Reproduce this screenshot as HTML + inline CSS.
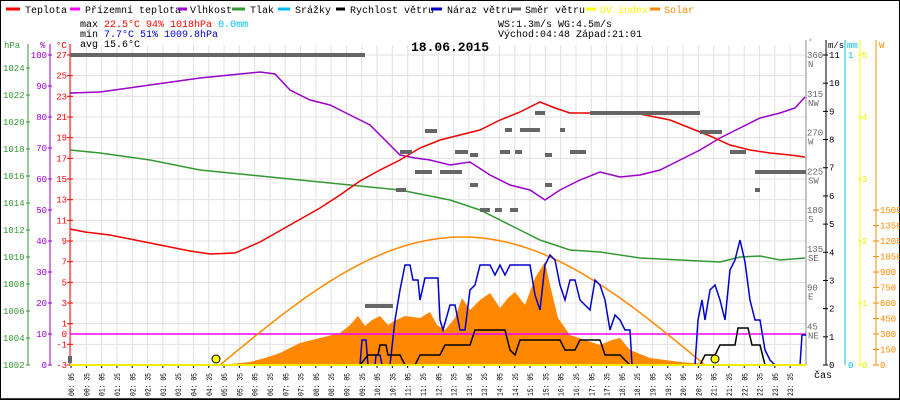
<!DOCTYPE html><html><head><meta charset="utf-8"><style>body{margin:0;background:#fff}svg{display:block;font-family:"Liberation Mono","DejaVu Sans Mono",monospace}</style></head><body>
<svg id="s" width="900" height="400" xmlns="http://www.w3.org/2000/svg">
<rect x="0.5" y="0.5" width="899" height="399" fill="#fff" stroke="#000"/>
<g id="grid" stroke="#e4e0e0" stroke-width="1"></g>
<g font-size="10">
<line x1="6" y1="9" x2="20" y2="9" stroke="#f00" stroke-width="3"/><text x="25" y="13">Teplota</text>
<line x1="70" y1="9" x2="80" y2="9" stroke="#f0f" stroke-width="3"/><text x="85" y="13">Přízemní teplota</text>
<line x1="178" y1="9" x2="187" y2="9" stroke="#90c" stroke-width="3"/><text x="190" y="13">Vlhkost</text>
<line x1="232" y1="9" x2="245" y2="9" stroke="#393" stroke-width="3"/><text x="250" y="13">Tlak</text>
<line x1="278" y1="9" x2="290" y2="9" stroke="#0bf" stroke-width="3"/><text x="295" y="13">Srážky</text>
<line x1="336" y1="9" x2="345" y2="9" stroke="#000" stroke-width="3"/><text x="350" y="13">Rychlost větru</text>
<line x1="431" y1="9" x2="442" y2="9" stroke="#00c" stroke-width="3"/><text x="447" y="13">Náraz větru</text>
<line x1="511" y1="9" x2="521" y2="9" stroke="#666" stroke-width="3"/><text x="525" y="13">Směr větru</text>
<line x1="586" y1="9" x2="596" y2="9" stroke="#ff0" stroke-width="3"/><text x="600" y="13" fill="#ff0">UV index</text>
<line x1="650" y1="9" x2="660" y2="9" stroke="#f80" stroke-width="3"/><text x="664" y="13" fill="#f80">Solar</text>
<text x="80" y="27">max <tspan fill="#f00">22.5°C  94%  1018hPa</tspan>     <tspan fill="#0bf">0.0mm</tspan></text>
<text x="80" y="37">min  <tspan fill="#00c">7.7°C  51%  1009.8hPa</tspan></text>
<text x="80" y="47">avg 15.6°C</text>
<text x="498" y="27">WS:1.3m/s    WG:4.5m/s</text>
<text x="498" y="37">Východ:04:48  Západ:21:01</text>
</g>
<text x="450" y="51" font-size="13" font-weight="bold" text-anchor="middle">18.06.2015</text>
<g id="ax"></g>
<g id="data" fill="none" stroke-width="1.5"></g>
</svg>
<script>
const NS="http://www.w3.org/2000/svg",s=document.getElementById('s');
function el(p,t,a,txt){const e=document.createElementNS(NS,t);for(const k in a)e.setAttribute(k,a[k]);if(txt!==undefined)e.textContent=txt;p.appendChild(e);return e}
const g=document.getElementById('grid'),ax=document.getElementById('ax'),d=document.getElementById('data');
const X=t=>68.5+t/30*15.3;
for(let i=0;i<48;i++){const t=5+30*i,x=X(t);el(g,'line',{x1:x,y1:45,x2:x,y2:365});
 const h=String(Math.floor(t/60)).padStart(2,'0'),m=String(t%60).padStart(2,'0');
 el(ax,'text',{x:0,y:0,transform:`translate(${x+3},396) rotate(-90)`,'font-size':8,textLength:23,lengthAdjust:'spacingAndGlyphs'},h+': '+m);
 el(ax,'line',{x1:x,y1:365,x2:x,y2:368,stroke:'#000'});}
el(ax,'text',{x:814,y:378,'font-size':10},'čas');
const TY=c=>365-(c+3)*10.333;
for(let c=-3;c<=27;c+=2){el(g,'line',{x1:70,y1:TY(c),x2:806,y2:TY(c)});}
el(ax,'line',{x1:28,y1:44,x2:28,y2:365,stroke:'#393'});
el(ax,'line',{x1:50,y1:44,x2:50,y2:365,stroke:'#90c'});
el(ax,'line',{x1:70,y1:44,x2:70,y2:365,stroke:'#f00'});
el(ax,'text',{x:4,y:48,'font-size':9,fill:'#393'},'hPa');el(ax,'text',{x:40,y:48,'font-size':9,fill:'#90c'},'%');el(ax,'text',{x:56,y:48,'font-size':9,fill:'#f00'},'°C');
for(let p=1002;p<=1024;p+=2){const y=365-(p-1002)*13.5;el(ax,'text',{x:3,y:y+3,'font-size':9,fill:'#393'},p);el(ax,'line',{x1:26,y1:y,x2:30,y2:y,stroke:'#393'});}
for(let p=0;p<=100;p+=10){const y=365-p*3.1;el(ax,'text',{x:47,y:y+3,'font-size':9,fill:'#90c','text-anchor':'end'},p);el(ax,'line',{x1:48,y1:y,x2:52,y2:y,stroke:'#90c'});}
for(let c=-3;c<=27;c+=2){const y=TY(c);el(ax,'text',{x:67,y:y+3,'font-size':9,fill:'#f00','text-anchor':'end'},c);el(ax,'line',{x1:67,y1:y,x2:73,y2:y,stroke:'#f00'});}
el(ax,'text',{x:67,y:TY(0)+3,'font-size':9,fill:'#f00','text-anchor':'end'},'0');
el(ax,'line',{x1:806,y1:40,x2:806,y2:365,stroke:'#888'});
el(ax,'line',{x1:826,y1:40,x2:826,y2:365,stroke:'#000'});
el(ax,'line',{x1:845,y1:40,x2:845,y2:365,stroke:'#0bf'});
el(ax,'line',{x1:860,y1:40,x2:860,y2:365,stroke:'#ff0'});
el(ax,'line',{x1:876,y1:40,x2:876,y2:365,stroke:'#f80'});
el(ax,'text',{x:828,y:48,'font-size':9},'m/s');el(ax,'text',{x:847,y:48,'font-size':9,fill:'#0bf'},'mm');el(ax,'text',{x:879,y:48,'font-size':9,fill:'#f80'},'W');el(ax,'text',{x:808,y:44,'font-size':8,fill:'#888'},'°');
const dirs=[[360,'N'],[315,'NW'],[270,'W'],[225,'SW'],[180,'S'],[135,'SE'],[90,'E'],[45,'NE']];
for(const[dg,n]of dirs){const y=365-dg*0.861;el(ax,'text',{x:807,y:y+3,'font-size':9,fill:'#666'},dg);el(ax,'text',{x:808,y:y+12,'font-size':9,fill:'#666'},n);}
for(let v=0;v<=11;v++){const y=365-v*28.18;el(ax,'text',{x:829,y:y+3,'font-size':9},v);el(ax,'line',{x1:823,y1:y,x2:828,y2:y,stroke:'#000'});}
el(ax,'text',{x:848,y:58,'font-size':9,fill:'#0bf'},'1');el(ax,'text',{x:848,y:368,'font-size':9,fill:'#0bf'},'0');
for(let u=0;u<=5;u++){const y=365-u*62;el(ax,'text',{x:862,y:y+3,'font-size':9,fill:'#ee0'},u);el(ax,'line',{x1:858,y1:y,x2:862,y2:y,stroke:'#ff0'});}
for(let w=0;w<=1500;w+=150){const y=365-w*0.1033;el(ax,'text',{x:880,y:y+3,'font-size':9,fill:'#f80'},w);el(ax,'line',{x1:873,y1:y,x2:879,y2:y,stroke:'#f80'});}
const P=a=>a.map(p=>p.join(',')).join(' ');
el(d,'polygon',{points:P([[220,365],[250,362],[265,358],[280,353],[290,348],[300,343],[320,338],[340,333],[350,325],[358,316],[365,326],[372,320],[380,316],[388,325],[396,320],[405,316],[420,318],[430,312],[437,325],[445,330],[455,318],[462,298],[470,310],[480,300],[490,293],[500,308],[508,298],[515,292],[525,305],[535,278],[540,270],[545,262],[550,285],[558,318],[570,335],[585,340],[600,345],[612,340],[620,338],[630,350],[650,358],[680,362],[720,365]]),fill:'#f80',stroke:'none'});
el(d,'line',{x1:70,y1:334,x2:806,y2:334,stroke:'#f0f','stroke-width':1.5});
let sol=[];for(let x=220;x<=705;x+=5){sol.push([x,365-128*Math.sin(Math.PI*(x-220)/485)]);}
el(d,'polyline',{points:P(sol),stroke:'#f80'});
el(d,'polyline',{points:P([[70,150],[100,153],[150,160],[200,170],[250,175],[300,180],[350,185],[400,190],[450,200],[480,210],[510,225],[540,240],[570,250],[600,252],[640,258],[680,260],[720,262],[740,257],[760,256],[780,260],[805,258]]),stroke:'#393'});
el(d,'polyline',{points:P([[70,93],[100,92],[150,85],[200,78],[240,74],[260,72],[275,74],[290,90],[310,100],[330,105],[350,115],[370,125],[385,140],[400,155],[415,158],[430,160],[450,165],[470,162],[490,175],[510,185],[530,190],[545,200],[560,190],[580,180],[600,172],[620,177],[640,175],[660,170],[680,160],[700,150],[720,138],[740,128],[760,118],[780,113],[795,108],[805,97]]),stroke:'#90c'});
el(d,'polyline',{points:P([[70,229],[85,232],[110,235],[150,243],[190,251],[210,254],[235,253],[260,242],[290,225],[320,208],[340,195],[360,181],[380,170],[400,160],[420,148],[440,140],[460,135],[480,130],[500,120],[520,112],[540,102],[555,108],[570,113],[590,113],[610,112],[640,114],[670,120],[690,128],[710,136],[730,145],[750,150],[770,153],[790,155],[805,157]]),stroke:'#e00'});
const dd=[[70,55,365],[365,306,393],[396,190,406],[425,131,437],[400,152,412],[415,172,432],[440,172,462],[455,152,468],[470,155,478],[480,210,490],[495,210,502],[505,130,512],[520,130,540],[535,113,545],[500,152,510],[515,152,522],[545,155,552],[545,185,552],[560,130,565],[570,152,586],[590,113,700],[700,132,722],[730,152,746],[755,172,806],[755,190,760],[510,210,518],[470,185,478]];
for(const[x1,y,x2]of dd)el(d,'line',{x1,y1:y,x2,y2:y,stroke:'#666','stroke-width':4});
el(d,'line',{x1:70,y1:356,x2:70,y2:363,stroke:'#666','stroke-width':4});
el(d,'polyline',{points:P([[70,365],[360,365],[362,340],[366,340],[368,365],[375,365],[376,355],[380,355],[382,365],[390,365],[395,320],[400,290],[405,265],[410,265],[413,280],[418,280],[420,300],[425,278],[438,278],[440,320],[443,330],[450,305],[455,305],[460,330],[465,330],[470,290],[475,285],[480,265],[490,265],[495,275],[500,265],[505,275],[510,265],[530,265],[535,295],[540,310],[545,265],[550,255],[555,260],[560,285],[565,300],[570,280],[575,280],[580,300],[590,310],[595,280],[600,285],[605,300],[610,330],[615,315],[620,320],[625,330],[630,330],[632,365],[695,365],[698,320],[702,300],[705,320],[710,290],[715,285],[720,300],[725,320],[730,270],[735,260],[740,240],[745,262],[750,300],[755,320],[760,320],[765,350],[770,360],[775,365],[800,365],[802,335],[806,335]]),stroke:'#00c'});
el(d,'polyline',{points:P([[70,365],[360,365],[368,355],[378,355],[380,345],[386,345],[388,355],[400,355],[405,365],[415,365],[420,355],[440,355],[445,345],[470,345],[475,330],[505,330],[510,350],[515,355],[520,340],[560,340],[565,350],[575,350],[580,340],[600,340],[605,355],[620,355],[630,365],[700,365],[705,355],[715,355],[720,345],[735,345],[738,328],[748,328],[752,345],[760,345],[765,365],[806,365]]),stroke:'#000'});
el(d,'line',{x1:70,y1:365,x2:806,y2:365,stroke:'#ee0','stroke-width':2});
el(d,'circle',{cx:216,cy:359,r:4,fill:'#ff0',stroke:'#000','stroke-width':1});
el(d,'circle',{cx:715,cy:359,r:4,fill:'#ff0',stroke:'#000','stroke-width':1});
el(d,'line',{x1:0,y1:399,x2:900,y2:399,stroke:'#000'});
</script>
</body></html>
